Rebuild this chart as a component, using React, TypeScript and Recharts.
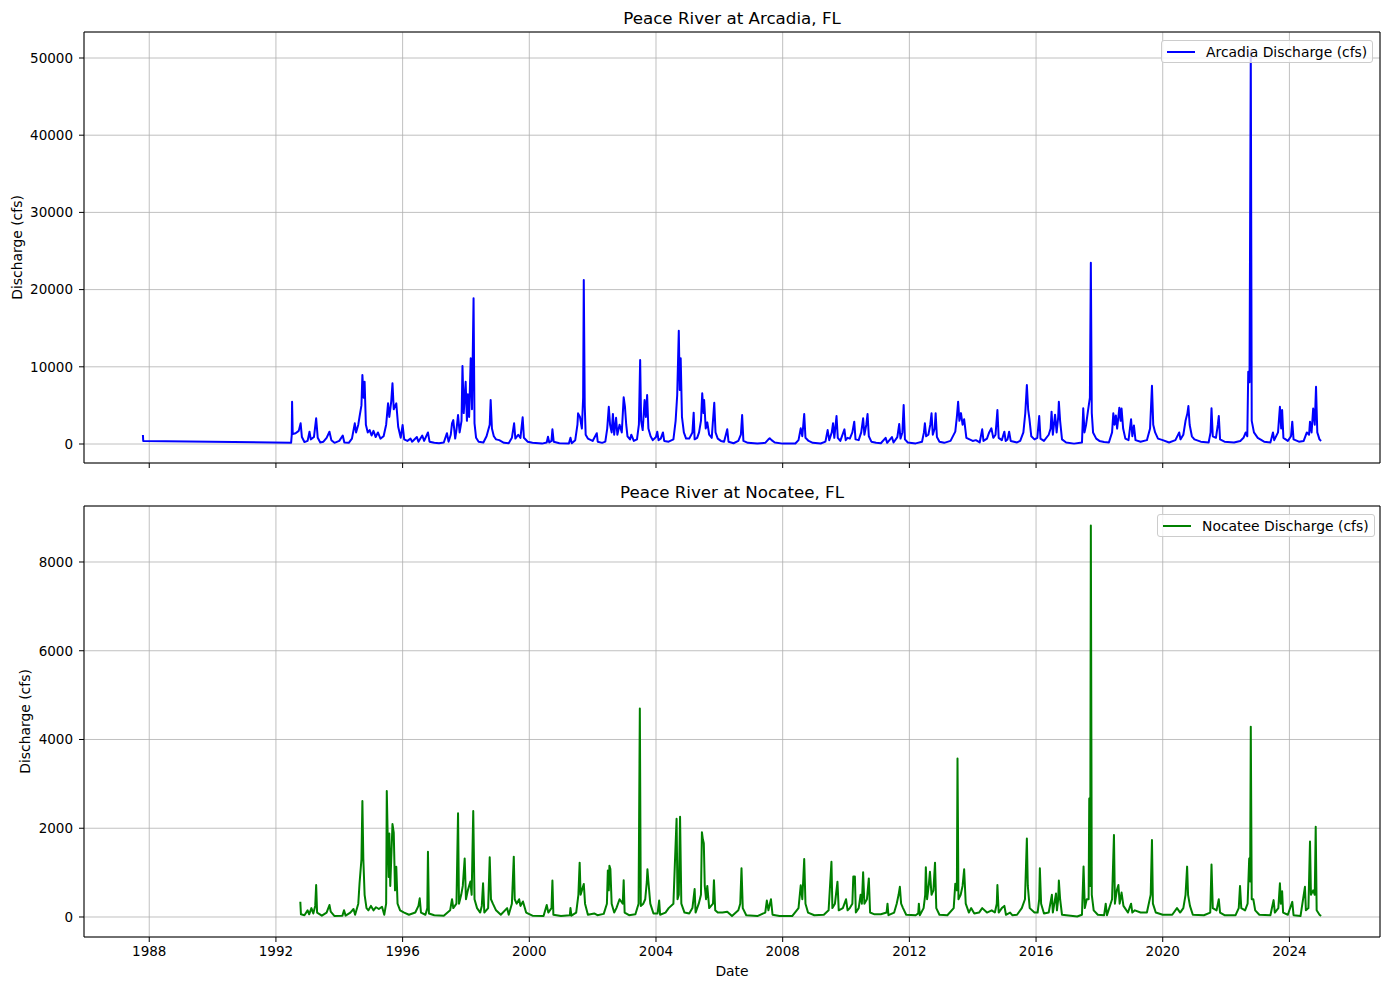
import { LineChart, Line, XAxis, YAxis, CartesianGrid, ReferenceArea } from "recharts";

// decimal year ticks shared by both panels
const yearTicks = [1988, 1992, 1996, 2000, 2004, 2008, 2012, 2016, 2020, 2024];
const arcadiaTicks = [0, 10000, 20000, 30000, 40000, 50000];
const nocateeTicks = [0, 2000, 4000, 6000, 8000];

// [decimal year, discharge cfs] (peaks + troughs only)
const arcadiaFlow: [number, number][] = [
  [1987.8, 1170], [1987.81, 390], [1992.48, 170], [1992.5, 1200], [1992.51, 5480], [1992.53, 1300],
  [1992.62, 1400], [1992.72, 1700], [1992.78, 2680], [1992.82, 900], [1992.9, 250], [1993.0, 400],
  [1993.06, 1590], [1993.1, 600], [1993.2, 900], [1993.27, 3330], [1993.32, 800], [1993.4, 200],
  [1993.5, 300], [1993.6, 800], [1993.69, 1590], [1993.75, 500], [1993.85, 150], [1994.0, 400],
  [1994.11, 1100], [1994.16, 200], [1994.3, 150], [1994.4, 700], [1994.49, 2680], [1994.53, 1500],
  [1994.6, 2500], [1994.64, 3540], [1994.7, 5000], [1994.73, 8935], [1994.77, 6000], [1994.8, 8070],
  [1994.84, 2500], [1994.9, 1500], [1994.96, 1800], [1995.02, 1100], [1995.08, 1700], [1995.15, 900],
  [1995.22, 1500], [1995.3, 700], [1995.4, 1000], [1995.48, 2500], [1995.54, 5270], [1995.58, 3500],
  [1995.64, 5500], [1995.68, 7860], [1995.72, 4500], [1995.8, 5270], [1995.86, 2240], [1995.94, 800],
  [1996.0, 2460], [1996.05, 600], [1996.15, 400], [1996.25, 700], [1996.3, 300], [1996.45, 900],
  [1996.5, 300], [1996.62, 1100], [1996.68, 400], [1996.8, 1500], [1996.85, 300], [1997.0, 150],
  [1997.15, 100], [1997.3, 200], [1997.4, 1400], [1997.45, 300], [1997.52, 1200], [1997.56, 2680],
  [1997.6, 3100], [1997.66, 700], [1997.7, 1800], [1997.75, 3755], [1997.8, 1500], [1997.86, 3000],
  [1997.89, 10100], [1997.93, 4000], [1997.99, 8070], [1998.03, 3000], [1998.06, 6430], [1998.1, 3500],
  [1998.15, 11100], [1998.19, 4500], [1998.24, 18870], [1998.27, 2680], [1998.32, 800], [1998.4, 300],
  [1998.55, 200], [1998.65, 1000], [1998.75, 2500], [1998.78, 5700], [1998.82, 2000], [1998.88, 1000],
  [1998.95, 600], [1999.05, 500], [1999.2, 150], [1999.35, 100], [1999.45, 800], [1999.52, 2680],
  [1999.56, 700], [1999.65, 1200], [1999.72, 800], [1999.79, 3460], [1999.83, 800], [1999.95, 300],
  [2000.1, 150], [2000.4, 50], [2000.55, 200], [2000.59, 950], [2000.63, 200], [2000.7, 400],
  [2000.73, 1900], [2000.77, 300], [2000.95, 100], [2001.25, 60], [2001.3, 800], [2001.34, 100],
  [2001.45, 500], [2001.52, 2500], [2001.54, 3970], [2001.6, 3500], [2001.66, 2000], [2001.7, 6000],
  [2001.72, 21240], [2001.75, 5000], [2001.78, 1200], [2001.85, 700], [2001.95, 500], [2002.0, 400],
  [2002.13, 1400], [2002.16, 300], [2002.3, 150], [2002.4, 300], [2002.46, 2000], [2002.51, 4830],
  [2002.55, 2500], [2002.6, 1500], [2002.64, 3900], [2002.68, 1200], [2002.74, 3400], [2002.78, 1200],
  [2002.85, 2500], [2002.92, 1500], [2002.98, 6040], [2003.02, 4830], [2003.06, 2500], [2003.1, 1000],
  [2003.18, 600], [2003.22, 1200], [2003.3, 400], [2003.4, 600], [2003.46, 2500], [2003.5, 10880],
  [2003.53, 3000], [2003.58, 1800], [2003.64, 5700], [2003.68, 3500], [2003.72, 6350], [2003.76, 2000],
  [2003.83, 1000], [2003.9, 500], [2004.0, 900], [2004.04, 1600], [2004.08, 500], [2004.15, 700],
  [2004.22, 1500], [2004.26, 400], [2004.4, 300], [2004.55, 600], [2004.62, 3000], [2004.67, 6350],
  [2004.72, 14680], [2004.75, 7000], [2004.78, 11100], [2004.82, 3500], [2004.88, 1500], [2004.95, 700],
  [2005.05, 700], [2005.15, 1500], [2005.19, 4060], [2005.22, 600], [2005.3, 800], [2005.36, 1500],
  [2005.42, 3000], [2005.46, 6560], [2005.5, 4000], [2005.52, 5700], [2005.57, 2000], [2005.62, 2800],
  [2005.68, 1200], [2005.76, 800], [2005.84, 5350], [2005.88, 1500], [2005.95, 700], [2006.05, 400],
  [2006.15, 300], [2006.25, 1900], [2006.29, 300], [2006.45, 100], [2006.6, 400], [2006.68, 1200],
  [2006.72, 3750], [2006.76, 400], [2006.9, 150], [2007.2, 50], [2007.45, 150], [2007.55, 600],
  [2007.59, 740], [2007.65, 500], [2007.75, 200], [2008.0, 50], [2008.4, 60], [2008.5, 500],
  [2008.57, 2030], [2008.62, 1000], [2008.68, 3880], [2008.72, 800], [2008.82, 400], [2008.95, 150],
  [2009.2, 60], [2009.35, 300], [2009.42, 1800], [2009.47, 500], [2009.55, 1500], [2009.59, 2680],
  [2009.63, 800], [2009.7, 3620], [2009.74, 800], [2009.82, 400], [2009.95, 1900], [2009.99, 500],
  [2010.05, 800], [2010.12, 700], [2010.2, 1500], [2010.26, 2890], [2010.3, 600], [2010.4, 500],
  [2010.48, 1500], [2010.54, 3330], [2010.58, 1200], [2010.64, 2500], [2010.68, 3880], [2010.72, 1000],
  [2010.8, 300], [2010.95, 150], [2011.1, 100], [2011.25, 800], [2011.3, 150], [2011.45, 900],
  [2011.5, 200], [2011.62, 900], [2011.68, 2590], [2011.72, 700], [2011.78, 1500], [2011.82, 5050],
  [2011.86, 600], [2011.95, 200], [2012.2, 80], [2012.4, 300], [2012.46, 1500], [2012.49, 2680],
  [2012.53, 1000], [2012.6, 1200], [2012.66, 2500], [2012.7, 3970], [2012.74, 1200], [2012.8, 2000],
  [2012.83, 3970], [2012.87, 900], [2012.95, 300], [2013.1, 150], [2013.3, 400], [2013.45, 1600],
  [2013.5, 3500], [2013.54, 5480], [2013.58, 3000], [2013.63, 4000], [2013.68, 2500], [2013.73, 3200],
  [2013.8, 800], [2013.9, 600], [2014.0, 400], [2014.1, 500], [2014.22, 200], [2014.3, 1900],
  [2014.34, 400], [2014.45, 700], [2014.52, 1500], [2014.59, 2030], [2014.65, 800], [2014.72, 1200],
  [2014.78, 4400], [2014.82, 800], [2014.92, 500], [2015.0, 1600], [2015.04, 400], [2015.1, 600],
  [2015.15, 1600], [2015.2, 400], [2015.3, 300], [2015.4, 200], [2015.5, 400], [2015.6, 1500],
  [2015.66, 4000], [2015.71, 7640], [2015.75, 4500], [2015.79, 3300], [2015.85, 1000], [2015.95, 600],
  [2016.04, 800], [2016.1, 3620], [2016.14, 700], [2016.25, 400], [2016.4, 1200], [2016.46, 2000],
  [2016.49, 4190], [2016.53, 1200], [2016.6, 3800], [2016.65, 1500], [2016.7, 3500], [2016.72, 5480],
  [2016.76, 3000], [2016.82, 600], [2016.95, 200], [2017.2, 50], [2017.45, 200], [2017.49, 4620],
  [2017.53, 1500], [2017.58, 2500], [2017.64, 4300], [2017.7, 6000], [2017.73, 23480], [2017.76, 4000],
  [2017.8, 1500], [2017.9, 700], [2018.0, 400], [2018.15, 250], [2018.3, 200], [2018.4, 1500],
  [2018.44, 3970], [2018.48, 2500], [2018.52, 3700], [2018.56, 2000], [2018.6, 3500], [2018.63, 4700],
  [2018.67, 3000], [2018.7, 4600], [2018.75, 2000], [2018.82, 700], [2018.92, 500], [2019.0, 3200],
  [2019.04, 1000], [2019.09, 2400], [2019.14, 500], [2019.3, 300], [2019.5, 500], [2019.6, 2000],
  [2019.66, 7550], [2019.7, 2500], [2019.76, 1500], [2019.85, 700], [2020.0, 500], [2020.2, 200],
  [2020.4, 500], [2020.52, 1500], [2020.56, 600], [2020.65, 1200], [2020.72, 3000], [2020.78, 4000],
  [2020.81, 4920], [2020.85, 2500], [2020.92, 1000], [2021.0, 600], [2021.2, 300], [2021.45, 200],
  [2021.51, 1500], [2021.54, 4620], [2021.58, 1000], [2021.68, 800], [2021.74, 2500], [2021.77, 3620],
  [2021.81, 600], [2021.95, 300], [2022.25, 200], [2022.45, 400], [2022.55, 800], [2022.62, 1500],
  [2022.67, 1000], [2022.7, 9360], [2022.74, 8000], [2022.78, 50800], [2022.81, 3000], [2022.88, 1500],
  [2023.0, 800], [2023.2, 300], [2023.4, 200], [2023.48, 1500], [2023.52, 500], [2023.64, 1500],
  [2023.7, 4830], [2023.74, 2000], [2023.77, 4400], [2023.81, 800], [2023.95, 400], [2024.05, 1000],
  [2024.09, 2890], [2024.13, 600], [2024.3, 300], [2024.45, 400], [2024.55, 1500], [2024.62, 1200],
  [2024.65, 2890], [2024.7, 1500], [2024.75, 4600], [2024.8, 2500], [2024.84, 7420], [2024.88, 1500],
  [2024.95, 600], [2025.0, 400],
];

const nocateeFlow: [number, number][] = [
  [1992.77, 345], [1992.79, 60], [1992.9, 40], [1993.0, 150], [1993.05, 60], [1993.12, 200],
  [1993.18, 80], [1993.24, 250], [1993.27, 720], [1993.3, 100], [1993.45, 30], [1993.6, 100],
  [1993.69, 270], [1993.73, 120], [1993.85, 20], [1994.1, 30], [1994.15, 150], [1994.2, 30],
  [1994.35, 100], [1994.45, 180], [1994.5, 50], [1994.6, 300], [1994.64, 760], [1994.7, 1300],
  [1994.73, 2614], [1994.76, 1300], [1994.8, 500], [1994.86, 200], [1994.92, 150], [1995.0, 250],
  [1995.08, 150], [1995.16, 220], [1995.25, 180], [1995.35, 230], [1995.42, 50], [1995.48, 300],
  [1995.5, 2840], [1995.53, 1790], [1995.56, 900], [1995.58, 1880], [1995.61, 700], [1995.65, 1500],
  [1995.68, 2095], [1995.72, 1900], [1995.76, 600], [1995.8, 1130], [1995.84, 300], [1995.92, 150],
  [1996.05, 100], [1996.2, 50], [1996.4, 100], [1996.5, 250], [1996.54, 420], [1996.58, 100],
  [1996.72, 50], [1996.78, 200], [1996.8, 1470], [1996.83, 80], [1997.0, 40], [1997.3, 30],
  [1997.5, 150], [1997.56, 400], [1997.6, 200], [1997.7, 300], [1997.75, 2337], [1997.78, 300],
  [1997.85, 500], [1997.9, 700], [1997.96, 1320], [1998.0, 400], [1998.06, 600], [1998.14, 800],
  [1998.18, 500], [1998.23, 2390], [1998.27, 400], [1998.35, 200], [1998.45, 100], [1998.5, 250],
  [1998.54, 760], [1998.58, 100], [1998.7, 200], [1998.75, 1345], [1998.79, 400], [1998.85, 300],
  [1998.95, 150], [1999.1, 50], [1999.3, 200], [1999.35, 50], [1999.45, 300], [1999.51, 1360],
  [1999.54, 400], [1999.6, 300], [1999.68, 400], [1999.72, 250], [1999.8, 350], [1999.9, 100],
  [2000.1, 30], [2000.45, 20], [2000.55, 270], [2000.6, 100], [2000.7, 200], [2000.73, 820],
  [2000.76, 50], [2001.0, 20], [2001.28, 40], [2001.3, 200], [2001.33, 30], [2001.48, 100],
  [2001.55, 500], [2001.59, 1225], [2001.62, 500], [2001.66, 600], [2001.72, 745], [2001.76, 300],
  [2001.85, 50], [2002.05, 80], [2002.15, 40], [2002.35, 70], [2002.45, 300], [2002.48, 1050],
  [2002.51, 600], [2002.53, 1157], [2002.56, 1080], [2002.6, 300], [2002.68, 100], [2002.75, 200],
  [2002.85, 400], [2002.95, 300], [2002.98, 830], [2003.01, 100], [2003.15, 40], [2003.35, 60],
  [2003.45, 300], [2003.49, 4700], [2003.52, 250], [2003.6, 300], [2003.66, 400], [2003.71, 790],
  [2003.73, 1075], [2003.76, 800], [2003.82, 300], [2003.92, 80], [2004.05, 80], [2004.1, 370],
  [2004.13, 50], [2004.3, 100], [2004.4, 200], [2004.55, 300], [2004.6, 1270], [2004.65, 2215],
  [2004.68, 400], [2004.72, 500], [2004.76, 2260], [2004.8, 300], [2004.9, 100], [2005.05, 80],
  [2005.15, 200], [2005.22, 630], [2005.25, 100], [2005.35, 300], [2005.42, 500], [2005.45, 1910],
  [2005.48, 1750], [2005.51, 1660], [2005.54, 700], [2005.58, 400], [2005.62, 700], [2005.68, 200],
  [2005.8, 300], [2005.83, 830], [2005.87, 150], [2005.95, 100], [2006.1, 100], [2006.25, 120],
  [2006.4, 20], [2006.6, 150], [2006.66, 300], [2006.7, 1100], [2006.74, 200], [2006.85, 40],
  [2007.2, 20], [2007.45, 100], [2007.5, 370], [2007.55, 150], [2007.63, 400], [2007.68, 50],
  [2007.9, 20], [2008.3, 20], [2008.5, 200], [2008.57, 715], [2008.62, 400], [2008.68, 1307],
  [2008.72, 300], [2008.8, 100], [2009.0, 40], [2009.3, 50], [2009.45, 150], [2009.54, 1246],
  [2009.57, 200], [2009.65, 300], [2009.73, 795], [2009.77, 150], [2009.9, 200], [2010.0, 400],
  [2010.05, 150], [2010.12, 200], [2010.2, 300], [2010.23, 910], [2010.28, 910], [2010.31, 100],
  [2010.4, 200], [2010.46, 500], [2010.5, 300], [2010.54, 1007], [2010.58, 300], [2010.66, 400],
  [2010.72, 870], [2010.76, 100], [2010.9, 60], [2011.1, 60], [2011.28, 100], [2011.31, 300],
  [2011.34, 40], [2011.52, 100], [2011.6, 300], [2011.66, 500], [2011.7, 680], [2011.74, 300],
  [2011.8, 200], [2011.9, 50], [2012.2, 40], [2012.28, 80], [2012.3, 300], [2012.33, 40],
  [2012.45, 200], [2012.5, 500], [2012.52, 1120], [2012.56, 400], [2012.61, 700], [2012.65, 1020],
  [2012.7, 500], [2012.76, 600], [2012.81, 1225], [2012.85, 200], [2012.95, 50], [2013.2, 40],
  [2013.4, 200], [2013.45, 750], [2013.5, 600], [2013.52, 3570], [2013.55, 400], [2013.62, 500],
  [2013.68, 700], [2013.73, 1075], [2013.78, 300], [2013.88, 100], [2013.95, 200], [2014.05, 80],
  [2014.2, 100], [2014.3, 200], [2014.45, 100], [2014.6, 150], [2014.7, 100], [2014.76, 300],
  [2014.78, 720], [2014.82, 100], [2014.92, 200], [2015.0, 250], [2015.05, 50], [2015.18, 100],
  [2015.25, 40], [2015.4, 50], [2015.55, 200], [2015.65, 400], [2015.71, 1770], [2015.74, 700],
  [2015.8, 200], [2015.95, 100], [2016.05, 100], [2016.1, 400], [2016.12, 1100], [2016.16, 300],
  [2016.25, 80], [2016.4, 100], [2016.5, 500], [2016.53, 100], [2016.6, 400], [2016.63, 530],
  [2016.66, 150], [2016.7, 400], [2016.72, 820], [2016.76, 400], [2016.82, 50], [2017.3, 10],
  [2017.45, 50], [2017.5, 1135], [2017.54, 200], [2017.6, 400], [2017.66, 400], [2017.68, 2670],
  [2017.71, 700], [2017.73, 8820], [2017.76, 500], [2017.82, 150], [2017.95, 50], [2018.15, 40],
  [2018.2, 300], [2018.24, 40], [2018.4, 400], [2018.46, 1850], [2018.49, 300], [2018.55, 600],
  [2018.6, 720], [2018.64, 300], [2018.7, 550], [2018.76, 250], [2018.9, 100], [2019.0, 300],
  [2019.04, 100], [2019.12, 150], [2019.3, 100], [2019.5, 100], [2019.62, 500], [2019.66, 1735],
  [2019.69, 300], [2019.78, 100], [2020.0, 50], [2020.3, 50], [2020.45, 200], [2020.55, 100],
  [2020.65, 200], [2020.72, 500], [2020.77, 1135], [2020.8, 500], [2020.86, 250], [2020.95, 50],
  [2021.3, 40], [2021.5, 100], [2021.54, 1185], [2021.58, 200], [2021.7, 150], [2021.77, 400],
  [2021.81, 100], [2021.95, 40], [2022.3, 40], [2022.4, 200], [2022.44, 700], [2022.48, 200],
  [2022.6, 150], [2022.68, 300], [2022.73, 1320], [2022.76, 800], [2022.78, 4290], [2022.81, 400],
  [2022.86, 400], [2022.92, 150], [2023.05, 50], [2023.4, 40], [2023.5, 380], [2023.54, 100],
  [2023.65, 200], [2023.7, 760], [2023.73, 300], [2023.77, 580], [2023.8, 100], [2023.95, 50],
  [2024.09, 340], [2024.13, 40], [2024.35, 20], [2024.49, 680], [2024.52, 150], [2024.6, 200],
  [2024.65, 1700], [2024.68, 500], [2024.75, 600], [2024.8, 500], [2024.83, 2035], [2024.86, 150],
  [2024.95, 50], [2025.0, 20],
];

const FONT = "'DejaVu Sans', sans-serif";
const W = 1389;
const X_DOMAIN: [number, number] = [1985.94, 2026.86];

function AxisTitle({ px, py, text, rotate }: { px: number; py: number; text: string; rotate?: boolean }) {
  return (
    <text
      x={px}
      y={py}
      textAnchor="middle"
      fontSize={13.9}
      fontFamily={FONT}
      fill="#000"
      transform={rotate ? `rotate(-90 ${px} ${py})` : undefined}
    >
      {text}
    </text>
  );
}

interface PanelProps {
  flow: [number, number][];
  color: string;
  name: string;
  title: string;
  yTicks: number[];
  yDomain: [number, number];
  top: number;
  height: number;
  marginTop: number;
  marginBottom: number;
  xAxisHeight: number;
  showDates: boolean;
  yLabelX: number;
  legendLeft: number;
}

function Panel(p: PanelProps) {
  const data = p.flow.map(([t, q]) => ({ t, q }));
  const plotBottom = p.height - p.marginBottom - p.xAxisHeight;
  const yMid = (p.marginTop + plotBottom) / 2;
  return (
    <div style={{ position: "absolute", left: 0, top: p.top, width: W, height: p.height }}>
      <LineChart width={W} height={p.height} data={data} margin={{ top: p.marginTop, right: 9, bottom: p.marginBottom, left: 0 }}>
        <CartesianGrid stroke="#b0b0b0" strokeWidth={0.8} />
        <XAxis
          dataKey="t"
          type="number"
          domain={X_DOMAIN}
          allowDataOverflow
          ticks={yearTicks}
          interval={0}
          height={p.xAxisHeight}
          axisLine={false}
          tickSize={5}
          tickMargin={4}
          tickLine={{ stroke: "#000", strokeWidth: 1 }}
          tick={{ fontSize: 13.5, fill: "#000", fontFamily: FONT }}
          tickFormatter={(v: number) => (p.showDates ? String(v) : "")}
          label={p.showDates ? <AxisTitle px={732} py={p.height - 14} text="Date" /> : undefined}
        />
        <YAxis
          type="number"
          domain={p.yDomain}
          allowDataOverflow
          ticks={p.yTicks}
          interval={0}
          width={84}
          axisLine={false}
          tickSize={5}
          tickMargin={6}
          tickLine={{ stroke: "#000", strokeWidth: 1 }}
          tick={{ fontSize: 13.5, fill: "#000", fontFamily: FONT }}
          label={<AxisTitle px={p.yLabelX} py={yMid} text="Discharge (cfs)" rotate />}
        />
        <Line
          type="linear"
          dataKey="q"
          name={p.name}
          stroke={p.color}
          strokeWidth={2}
          strokeLinejoin="round"
          dot={false}
          isAnimationActive={false}
        />
        <ReferenceArea
          x1={X_DOMAIN[0]}
          x2={X_DOMAIN[1]}
          y1={p.yDomain[0]}
          y2={p.yDomain[1]}
          fill="none"
          stroke="#000"
          strokeWidth={1}
          ifOverflow="visible"
        />
      </LineChart>
      <div
        style={{
          position: "absolute",
          left: 84,
          width: 1296,
          top: p.marginTop - 24,
          textAlign: "center",
          fontFamily: FONT,
          fontSize: 16.7,
          lineHeight: "20px",
          color: "#000",
        }}
      >
        {p.title}
      </div>
      <div
        style={{
          position: "absolute",
          left: p.legendLeft,
          top: p.marginTop + 8,
          height: 23,
          boxSizing: "border-box",
          display: "flex",
          alignItems: "center",
          padding: "0 5px",
          border: "1px solid #cccccc",
          borderRadius: 3,
          background: "rgba(255,255,255,0.8)",
          fontFamily: FONT,
          fontSize: 13.9,
          color: "#000",
        }}
      >
        <span style={{ display: "inline-block", width: 28, height: 2, background: p.color, marginRight: 11 }} />
        <span>{p.name}</span>
      </div>
    </div>
  );
}

export default function App() {
  return (
    <div style={{ position: "absolute", left: 0, top: 0, width: W, height: 990, background: "#fff" }}>
      <Panel
        flow={arcadiaFlow}
        color="#0000ff"
        name="Arcadia Discharge (cfs)"
        title="Peace River at Arcadia, FL"
        yTicks={arcadiaTicks}
        yDomain={[-2461, 53368]}
        top={0}
        height={490}
        marginTop={32}
        marginBottom={7}
        xAxisHeight={20}
        showDates={false}
        yLabelX={21.5}
        legendLeft={1161}
      />
      <Panel
        flow={nocateeFlow}
        color="#008000"
        name="Nocatee Discharge (cfs)"
        title="Peace River at Nocatee, FL"
        yTicks={nocateeTicks}
        yDomain={[-451, 9262]}
        top={490}
        height={500}
        marginTop={16}
        marginBottom={8}
        xAxisHeight={45}
        showDates
        yLabelX={30}
        legendLeft={1157}
      />
    </div>
  );
}
